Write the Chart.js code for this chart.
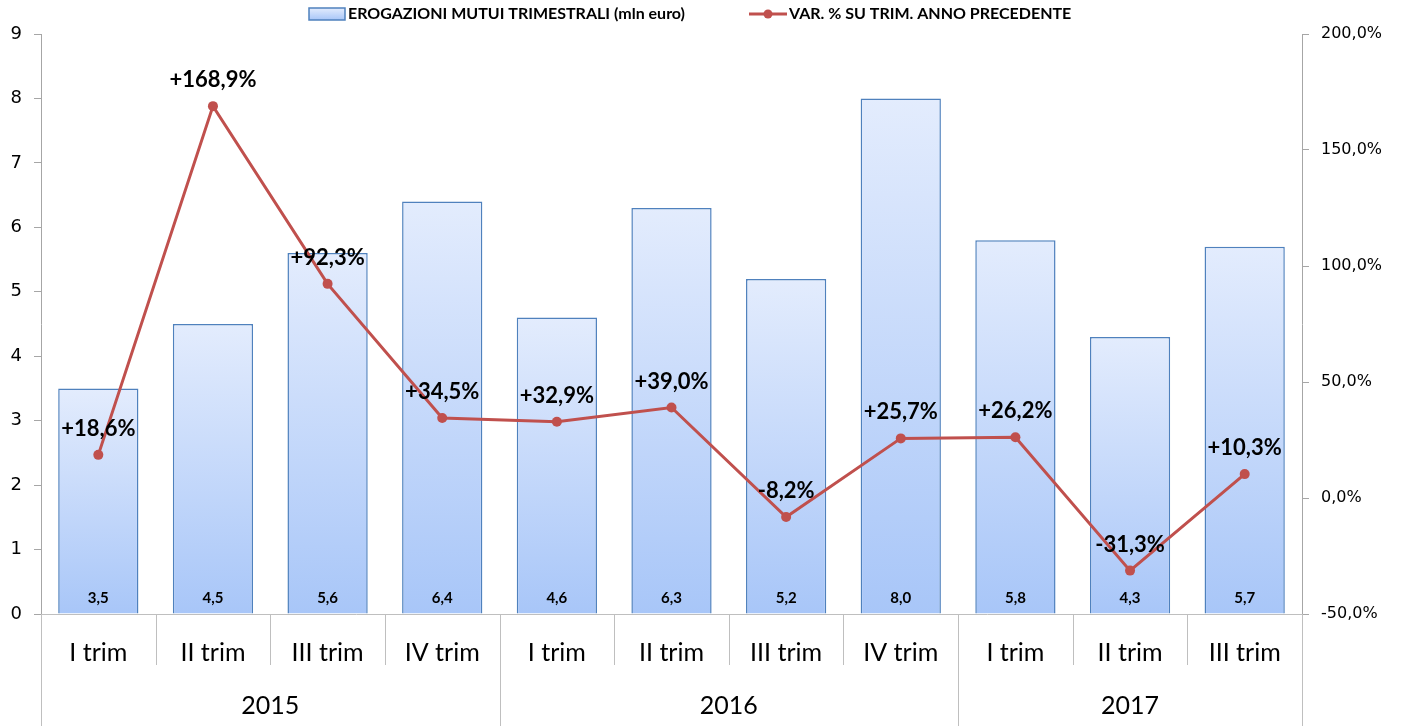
<!DOCTYPE html>
<html>
<head>
<meta charset="utf-8">
<script src="https://cdn.jsdelivr.net/npm/chart.js"></script>
<style>
  html, body { margin: 0; padding: 0; background: #fff; }
  #wrap { width: 1405px; height: 726px; }
</style>
</head>
<body>
<div id="wrap"><canvas id="myChart" width="1405" height="726"></canvas></div>
<script>
var quarters = ["I trim", "II trim", "III trim", "IV trim", "I trim", "II trim", "III trim", "IV trim", "I trim", "II trim", "III trim"];
var years = ["2015", "2016", "2017"];
var yearSpans = [4, 4, 3];
var loans = [3.5, 4.5, 5.6, 6.4, 4.6, 6.3, 5.2, 8.0, 5.8, 4.3, 5.7];
var changes = [18.6, 168.9, 92.3, 34.5, 32.9, 39.0, -8.2, 25.7, 26.2, -31.3, 10.3];
var leftTicks = [0, 1, 2, 3, 4, 5, 6, 7, 8, 9];
var rightTicks = [-50, 0, 50, 100, 150, 200];

var barLabel = "EROGAZIONI MUTUI TRIMESTRALI (mln euro)";
var lineLabel = "VAR. % SU TRIM. ANNO PRECEDENTE";

var axisGrey = "#a6a6a6";
var sepGrey = "#bfbfbf";
var lineRed = "#c0504d";
var barEdge = "#4f81bd";

function fmtComma(v, d) {
    return v.toFixed(d).replace(".", ",");
}

function barFill(context) {
    var chart = context.chart;
    if (!chart.chartArea || context.dataIndex === undefined) return "#c6d9fb";
    var ys = chart.scales.y;
    var top = ys.getPixelForValue(loans[context.dataIndex]);
    var bottom = ys.getPixelForValue(0);
    if (!isFinite(top) || !isFinite(bottom) || top === bottom) return "#c6d9fb";
    var g = chart.ctx.createLinearGradient(0, top, 0, bottom);
    g.addColorStop(0, "#e3ecfd");
    g.addColorStop(1, "#a8c6f8");
    return g;
}

var extras = {
    id: "extras",
    afterDraw: function (chart) {
        var ctx = chart.ctx;
        var area = chart.chartArea;
        var n = quarters.length;
        var step = (area.right - area.left) / n;

        // separators under the category axis
        ctx.save();
        ctx.strokeStyle = sepGrey;
        ctx.lineWidth = 1;
        var idx = 0;
        var bounds = [0];
        for (var i = 0; i < yearSpans.length; i++) { idx += yearSpans[i]; bounds.push(idx); }
        for (var k = 0; k <= n; k++) {
            var x = Math.round(area.left + k * step) + 0.5;
            var long = bounds.indexOf(k) >= 0;
            ctx.beginPath();
            ctx.moveTo(x, area.bottom);
            ctx.lineTo(x, long ? 726 : area.bottom + 51);
            ctx.stroke();
        }
        ctx.restore();

        // year labels
        ctx.save();
        ctx.fillStyle = "#000";
        ctx.font = "25px Lato";
        ctx.textAlign = "center";
        ctx.textBaseline = "middle";
        var start = 0;
        for (var j = 0; j < years.length; j++) {
            var x0 = area.left + start * step;
            var x1 = area.left + (start + yearSpans[j]) * step;
            ctx.fillText(years[j], (x0 + x1) / 2, 706);
            start += yearSpans[j];
        }
        ctx.restore();

        // bar value labels
        ctx.save();
        ctx.fillStyle = "#000";
        ctx.font = "bold 15px Lato";
        ctx.textAlign = "center";
        ctx.textBaseline = "middle";
        var barMeta = chart.getDatasetMeta(0);
        barMeta.data.forEach(function (el, i) {
            ctx.fillText(fmtComma(loans[i], 1), el.x, area.bottom - 16);
        });

        // line value labels
        ctx.font = "bold 22px Lato";
        var lineMeta = chart.getDatasetMeta(1);
        lineMeta.data.forEach(function (el, i) {
            var v = changes[i];
            var s = (v > 0 ? "+" : "") + fmtComma(v, 1) + "%";
            ctx.fillText(s, el.x, el.y - 26);
        });
        ctx.restore();

        // legend
        ctx.save();
        ctx.font = "bold 16px Lato";
        ctx.textBaseline = "middle";
        ctx.textAlign = "left";
        var ly = 14;
        var lx = 309;
        var grad = ctx.createLinearGradient(0, ly - 6, 0, ly + 6);
        grad.addColorStop(0, "#e3ecfd");
        grad.addColorStop(1, "#a8c6f8");
        ctx.fillStyle = grad;
        ctx.fillRect(lx, ly - 6, 36, 12);
        ctx.strokeStyle = barEdge;
        ctx.lineWidth = 1.5;
        ctx.strokeRect(lx, ly - 6, 36, 12);
        ctx.fillStyle = "#000";
        ctx.fillText(barLabel, lx + 39, ly);
        var lx2 = 749;
        ctx.strokeStyle = lineRed;
        ctx.lineWidth = 3;
        ctx.beginPath();
        ctx.moveTo(lx2, ly);
        ctx.lineTo(lx2 + 38, ly);
        ctx.stroke();
        ctx.fillStyle = lineRed;
        ctx.beginPath();
        ctx.arc(lx2 + 19, ly, 4.5, 0, Math.PI * 2);
        ctx.fill();
        ctx.fillStyle = "#000";
        ctx.fillText(lineLabel, lx2 + 40, ly);
        ctx.restore();
    }
};

new Chart("myChart", {
    data: {
        labels: quarters,
        datasets: [{
            type: "bar",
            label: barLabel,
            data: loans,
            yAxisID: "y",
            backgroundColor: barFill,
            borderColor: barEdge,
            borderWidth: 1.5,
            categoryPercentage: 1.0,
            barPercentage: 0.7,
            order: 2
        }, {
            type: "line",
            label: lineLabel,
            data: changes,
            yAxisID: "y1",
            borderColor: lineRed,
            backgroundColor: lineRed,
            borderWidth: 3,
            pointRadius: 5,
            pointBackgroundColor: lineRed,
            pointBorderWidth: 0,
            tension: 0,
            order: 1
        }]
    },
    options: {
        responsive: false,
        animation: false,
        layout: { padding: { top: 34, left: 0, right: 0, bottom: 0 } },
        plugins: {
            legend: { display: false },
            tooltip: { enabled: false }
        },
        scales: {
            x: {
                offset: true,
                grid: { display: false, drawOnChartArea: false },
                border: { display: true, color: sepGrey },
                ticks: {
                    color: "#000",
                    font: { family: "Lato", size: 25 },
                    padding: 16,
                    maxRotation: 0,
                    autoSkip: false
                },
                afterFit: function (scale) { scale.height = 112; }
            },
            y: {
                position: "left",
                min: 0,
                max: 9,
                afterBuildTicks: function (scale) {
                    scale.ticks = leftTicks.map(function (v) { return { value: v }; });
                },
                grid: { drawOnChartArea: false, drawTicks: true, tickLength: 7, color: axisGrey },
                border: { display: true, color: axisGrey },
                ticks: {
                    color: "#000",
                    font: { family: "DejaVu Sans", size: 18 },
                    padding: 12
                },
                afterFit: function (scale) { scale.width = 41; }
            },
            y1: {
                position: "right",
                min: -50,
                max: 200,
                afterBuildTicks: function (scale) {
                    scale.ticks = rightTicks.map(function (v) { return { value: v }; });
                },
                grid: { drawOnChartArea: false, drawTicks: true, tickLength: 7, color: axisGrey },
                border: { display: true, color: axisGrey },
                ticks: {
                    color: "#000",
                    font: { family: "DejaVu Sans", size: 16 },
                    padding: 12,
                    callback: function (v) { return fmtComma(v, 1) + "%"; }
                },
                afterFit: function (scale) { scale.width = 103; }
            }
        }
    },
    plugins: [extras]
});
</script>
</body>
</html>
